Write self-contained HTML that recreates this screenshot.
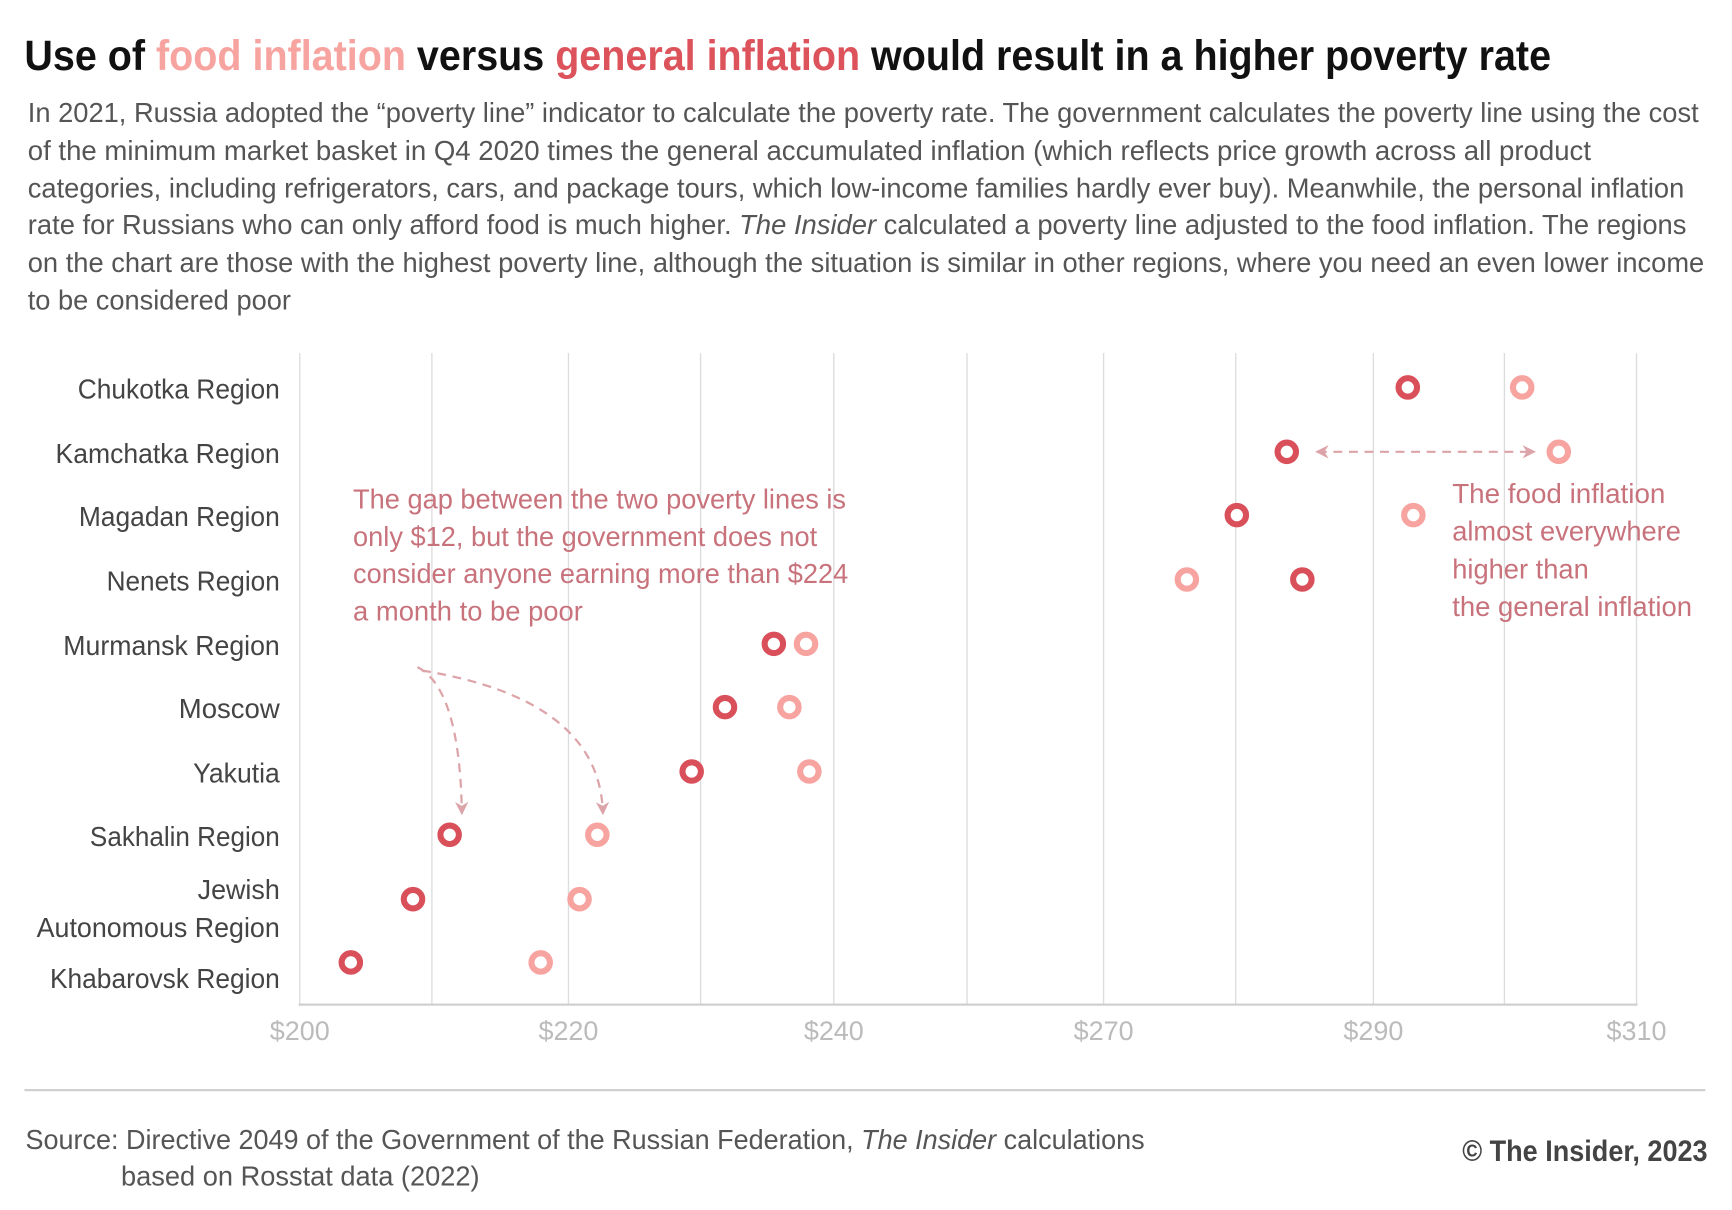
<!DOCTYPE html>
<html><head><meta charset="utf-8"><style>
html,body{margin:0;padding:0;background:#fff;width:1732px;height:1210px;overflow:hidden}
svg{display:block}
text{font-family:"Liberation Sans Narrow","Liberation Sans",sans-serif}
</style></head><body>
<svg width="1732" height="1210" viewBox="0 0 1560 1090" preserveAspectRatio="none" xmlns="http://www.w3.org/2000/svg">
<defs>
<marker id="ah" viewBox="0 0 10 10" refX="8" refY="5" markerWidth="6" markerHeight="6" orient="auto-start-reverse"><path d="M0,0 L10,5 L0,10 L3,5 z" fill="#dca4a8"/></marker>
</defs>
<text x="22" y="63" font-size="38" font-weight="bold" fill="#111" textLength="1375" lengthAdjust="spacingAndGlyphs">Use of <tspan fill="#f7a3a0">food inflation</tspan> versus <tspan fill="#dd535c">general inflation</tspan> would result in a higher poverty rate</text>
<g font-size="25" fill="#555">
<text x="25" y="110" textLength="1505" lengthAdjust="spacingAndGlyphs">In 2021, Russia adopted the “poverty line” indicator to calculate the poverty rate. The government calculates the poverty line using the cost</text>
<text x="25" y="144" textLength="1408" lengthAdjust="spacingAndGlyphs">of the minimum market basket in Q4 2020 times the general accumulated inflation (which reflects price growth across all product</text>
<text x="25" y="178" textLength="1492" lengthAdjust="spacingAndGlyphs">categories, including refrigerators, cars, and package tours, which low-income families hardly ever buy). Meanwhile, the personal inflation</text>
<text x="25" y="211" textLength="1494" lengthAdjust="spacingAndGlyphs">rate for Russians who can only afford food is much higher. <tspan font-style="italic">The Insider</tspan> calculated a poverty line adjusted to the food inflation. The regions</text>
<text x="25" y="245" textLength="1510" lengthAdjust="spacingAndGlyphs">on the chart are those with the highest poverty line, although the situation is similar in other regions, where you need an even lower income</text>
<text x="25" y="279" textLength="237" lengthAdjust="spacingAndGlyphs">to be considered poor</text>
</g>
<g stroke="#dcdcdc" stroke-width="1.2">
<line x1="270" y1="318" x2="270" y2="905"/><line x1="389" y1="318" x2="389" y2="905"/><line x1="512" y1="318" x2="512" y2="905"/><line x1="631" y1="318" x2="631" y2="905"/><line x1="751" y1="318" x2="751" y2="905"/><line x1="871" y1="318" x2="871" y2="905"/><line x1="994" y1="318" x2="994" y2="905"/><line x1="1113" y1="318" x2="1113" y2="905"/><line x1="1237" y1="318" x2="1237" y2="905"/><line x1="1355" y1="318" x2="1355" y2="905"/><line x1="1474" y1="318" x2="1474" y2="905"/>
</g>
<line x1="269" y1="905" x2="1475" y2="905" stroke="#d0d0d0" stroke-width="2"/>
<g font-size="24" fill="#bbb">
<text x="243" y="937" textLength="54" lengthAdjust="spacingAndGlyphs">$200</text><text x="485" y="937" textLength="54" lengthAdjust="spacingAndGlyphs">$220</text><text x="724" y="937" textLength="54" lengthAdjust="spacingAndGlyphs">$240</text><text x="967" y="937" textLength="54" lengthAdjust="spacingAndGlyphs">$270</text><text x="1210" y="937" textLength="54" lengthAdjust="spacingAndGlyphs">$290</text><text x="1447" y="937" textLength="54" lengthAdjust="spacingAndGlyphs">$310</text>
</g>
<g font-size="25" fill="#444">
<text x="70" y="359" textLength="182" lengthAdjust="spacingAndGlyphs">Chukotka Region</text>
<text x="50" y="417" textLength="202" lengthAdjust="spacingAndGlyphs">Kamchatka Region</text>
<text x="71" y="474" textLength="181" lengthAdjust="spacingAndGlyphs">Magadan Region</text>
<text x="96" y="532" textLength="156" lengthAdjust="spacingAndGlyphs">Nenets Region</text>
<text x="57" y="590" textLength="195" lengthAdjust="spacingAndGlyphs">Murmansk Region</text>
<text x="161" y="647" textLength="91" lengthAdjust="spacingAndGlyphs">Moscow</text>
<text x="174" y="705" textLength="78" lengthAdjust="spacingAndGlyphs">Yakutia</text>
<text x="81" y="762" textLength="171" lengthAdjust="spacingAndGlyphs">Sakhalin Region</text>
<text x="178" y="810" textLength="74" lengthAdjust="spacingAndGlyphs">Jewish</text>
<text x="33" y="844" textLength="219" lengthAdjust="spacingAndGlyphs">Autonomous Region</text>
<text x="45" y="890" textLength="207" lengthAdjust="spacingAndGlyphs">Khabarovsk Region</text>
</g>
<g font-size="25" fill="#c8727c">
<text x="318" y="458" textLength="444" lengthAdjust="spacingAndGlyphs">The gap between the two poverty lines is</text>
<text x="318" y="492" textLength="418" lengthAdjust="spacingAndGlyphs">only $12, but the government does not</text>
<text x="318" y="525" textLength="446" lengthAdjust="spacingAndGlyphs">consider anyone earning more than $224</text>
<text x="318" y="559" textLength="207" lengthAdjust="spacingAndGlyphs">a month to be poor</text>
<text x="1308" y="453" textLength="192" lengthAdjust="spacingAndGlyphs">The food inflation</text>
<text x="1308" y="487" textLength="206" lengthAdjust="spacingAndGlyphs">almost everywhere</text>
<text x="1308" y="521" textLength="123" lengthAdjust="spacingAndGlyphs">higher than</text>
<text x="1308" y="555" textLength="216" lengthAdjust="spacingAndGlyphs">the general inflation</text>
</g>
<g fill="none" stroke="#dca4a8" stroke-width="2" stroke-dasharray="8,6">
<line x1="1187" y1="407" x2="1381" y2="407" marker-start="url(#ah)" marker-end="url(#ah)"/>
<path d="M376,601 Q414,620 416,732" marker-end="url(#ah)"/>
<path d="M380,604 Q540,630 543,732" marker-end="url(#ah)"/>
</g>
<g fill="#fff" stroke-width="5.5">
<g stroke="#f7a3a0">
<circle cx="1371" cy="349" r="8.3"/><circle cx="1404" cy="407" r="8.3"/><circle cx="1273" cy="464" r="8.3"/><circle cx="1069" cy="522" r="8.3"/><circle cx="726" cy="580" r="8.3"/><circle cx="711" cy="637" r="8.3"/><circle cx="729" cy="695" r="8.3"/><circle cx="538" cy="752" r="8.3"/><circle cx="522" cy="810" r="8.3"/><circle cx="487" cy="867" r="8.3"/>
</g>
<g stroke="#d9505a">
<circle cx="1268" cy="349" r="8.3"/><circle cx="1159" cy="407" r="8.3"/><circle cx="1114" cy="464" r="8.3"/><circle cx="1173" cy="522" r="8.3"/><circle cx="697" cy="580" r="8.3"/><circle cx="653" cy="637" r="8.3"/><circle cx="623" cy="695" r="8.3"/><circle cx="405" cy="752" r="8.3"/><circle cx="372" cy="810" r="8.3"/><circle cx="316" cy="867" r="8.3"/>
</g>
</g>
<line x1="22" y1="982" x2="1536" y2="982" stroke="#d0d0d0" stroke-width="2"/>
<g font-size="25" fill="#555">
<text x="23" y="1035" textLength="1008" lengthAdjust="spacingAndGlyphs">Source: Directive 2049 of the Government of the Russian Federation, <tspan font-style="italic">The Insider</tspan> calculations</text>
<text x="109" y="1068" textLength="323" lengthAdjust="spacingAndGlyphs">based on Rosstat data (2022)</text>
</g>
<text x="1317" y="1046" font-size="27" font-weight="bold" fill="#444" textLength="221" lengthAdjust="spacingAndGlyphs">© The Insider, 2023</text>
</svg>
</body></html>
